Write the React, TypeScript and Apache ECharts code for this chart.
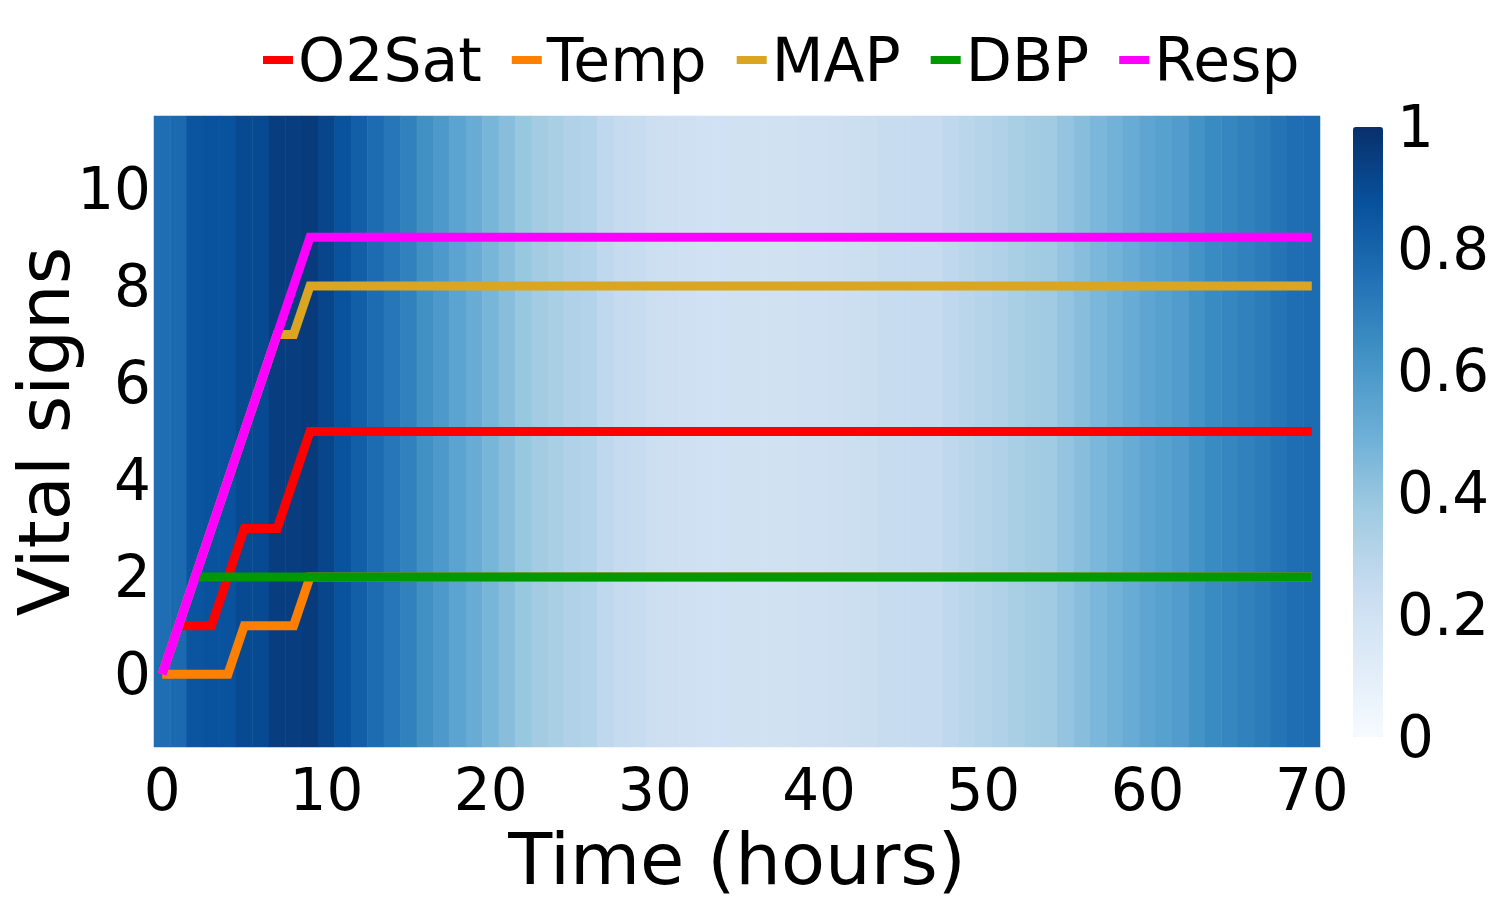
import React, { useEffect, useRef } from "react";
import * as echarts from "echarts";

const hours: string[] = [
  "0","1","2","3","4","5","6","7","8","9","10","11","12","13","14","15","16","17","18","19","20",
  "21","22","23","24","25","26","27","28","29","30","31","32","33","34","35","36","37","38","39","40",
  "41","42","43","44","45","46","47","48","49","50","51","52","53","54","55","56","57","58","59","60",
  "61","62","63","64","65","66","67","68","69","70",
];

const background: number[] = [
  0.76, 0.78, 0.86, 0.87, 0.87, 0.9, 0.9, 0.95, 0.95, 0.96,
  0.92, 0.87, 0.82, 0.77, 0.73, 0.69, 0.63, 0.59, 0.55, 0.51,
  0.47, 0.43, 0.39, 0.36, 0.34, 0.32, 0.31, 0.27, 0.25, 0.24,
  0.22, 0.215, 0.21, 0.205, 0.205, 0.2, 0.2, 0.2, 0.2, 0.21,
  0.21, 0.215, 0.22, 0.23, 0.24, 0.245, 0.25, 0.25, 0.27, 0.29,
  0.3, 0.32, 0.34, 0.36, 0.37, 0.4, 0.43, 0.46, 0.48, 0.51,
  0.54, 0.56, 0.58, 0.62, 0.65, 0.67, 0.69, 0.71, 0.74, 0.76,
  0.77,
];

const o2sat: number[] = [
  0, 1, 1, 1, 2, 3, 3, 3, 4, 5,
  5, 5, 5, 5, 5, 5, 5, 5, 5, 5, 5, 5, 5, 5, 5, 5, 5, 5, 5, 5,
  5, 5, 5, 5, 5, 5, 5, 5, 5, 5, 5, 5, 5, 5, 5, 5, 5, 5, 5, 5,
  5, 5, 5, 5, 5, 5, 5, 5, 5, 5, 5, 5, 5, 5, 5, 5, 5, 5, 5, 5, 5,
];

const temp: number[] = [
  0, 0, 0, 0, 0, 1, 1, 1, 1, 2,
  2, 2, 2, 2, 2, 2, 2, 2, 2, 2, 2, 2, 2, 2, 2, 2, 2, 2, 2, 2,
  2, 2, 2, 2, 2, 2, 2, 2, 2, 2, 2, 2, 2, 2, 2, 2, 2, 2, 2, 2,
  2, 2, 2, 2, 2, 2, 2, 2, 2, 2, 2, 2, 2, 2, 2, 2, 2, 2, 2, 2, 2,
];

const map: number[] = [
  0, 1, 2, 3, 4, 5, 6, 7, 7, 8,
  8, 8, 8, 8, 8, 8, 8, 8, 8, 8, 8, 8, 8, 8, 8, 8, 8, 8, 8, 8,
  8, 8, 8, 8, 8, 8, 8, 8, 8, 8, 8, 8, 8, 8, 8, 8, 8, 8, 8, 8,
  8, 8, 8, 8, 8, 8, 8, 8, 8, 8, 8, 8, 8, 8, 8, 8, 8, 8, 8, 8, 8,
];

const dbp: (number | null)[] = [
  null, null, 2, 2, 2, 2, 2, 2, 2, 2,
  2, 2, 2, 2, 2, 2, 2, 2, 2, 2, 2, 2, 2, 2, 2, 2, 2, 2, 2, 2,
  2, 2, 2, 2, 2, 2, 2, 2, 2, 2, 2, 2, 2, 2, 2, 2, 2, 2, 2, 2,
  2, 2, 2, 2, 2, 2, 2, 2, 2, 2, 2, 2, 2, 2, 2, 2, 2, 2, 2, 2, 2,
];

const resp: number[] = [
  0, 1, 2, 3, 4, 5, 6, 7, 8, 9,
  9, 9, 9, 9, 9, 9, 9, 9, 9, 9, 9, 9, 9, 9, 9, 9, 9, 9, 9, 9,
  9, 9, 9, 9, 9, 9, 9, 9, 9, 9, 9, 9, 9, 9, 9, 9, 9, 9, 9, 9,
  9, 9, 9, 9, 9, 9, 9, 9, 9, 9, 9, 9, 9, 9, 9, 9, 9, 9, 9, 9, 9,
];

const seriesNames = ["O2Sat", "Temp", "MAP", "DBP", "Resp"];
const seriesColors = ["#ff0000", "#ff7f00", "#daa520", "#009900", "#ff00ff"];
const seriesValues = [o2sat, temp, map, dbp, resp];

const yTicks = [0, 2, 4, 6, 8, 10];
const blues = [
  "#f7fbff", "#deebf7", "#c6dbef", "#9ecae1", "#6baed6",
  "#4292c6", "#2171b5", "#08519c", "#08306b",
];

const FONT = "DejaVu Sans";

export default function App() {
  const ref = useRef<HTMLDivElement>(null);
  useEffect(() => {
    document.body.style.margin = "0";
    if (!ref.current) return;
    const chart = echarts.init(ref.current, undefined, { renderer: "svg" });
    const heatData = background.map((v, i) => [i, 0, v]);
    chart.setOption({
      animation: false,
      backgroundColor: "#ffffff",
      textStyle: { fontFamily: FONT, color: "#000" },
      legend: {
        data: seriesNames,
        left: 263,
        top: 30,
        icon: "rect",
        itemWidth: 30,
        itemHeight: 8,
        itemGap: 30,
        padding: 0,
        textStyle: { fontSize: 60, fontFamily: FONT, color: "#000" },
      },
      grid: [
        { left: 154, top: 116, width: 1166, height: 631, containLabel: false, outerBoundsMode: "none" },
        { left: 1353, top: 127, width: 30, height: 610, containLabel: false, outerBoundsMode: "none" },
      ],
      xAxis: [
        {
          type: "category",
          gridIndex: 0,
          data: hours,
          boundaryGap: true,
          axisLine: { show: false },
          axisTick: { show: false },
          splitLine: { show: false },
          axisLabel: {
            interval: 9,
            fontSize: 58,
            lineHeight: 50,
            fontFamily: FONT,
            color: "#000",
            margin: 18,
          },
          name: "Time (hours)",
          nameLocation: "middle",
          nameGap: 82,
          nameMoveOverlap: false,
          nameTextStyle: { fontSize: 72, lineHeight: 60, fontFamily: FONT, color: "#000" },
        },
        { type: "value", gridIndex: 1, show: false, min: 0, max: 1 },
      ],
      yAxis: [
        {
          type: "value",
          gridIndex: 0,
          min: -1.5,
          max: 11.5,
          axisLine: { show: false },
          axisTick: { show: false },
          splitLine: { show: false },
          axisLabel: {
            customValues: yTicks,
            fontSize: 58,
            fontFamily: FONT,
            color: "#000",
            margin: 3,
          },
          name: "Vital signs",
          nameLocation: "middle",
          nameGap: 77,
          nameMoveOverlap: false,
          nameTextStyle: { fontSize: 72, lineHeight: 66, fontFamily: FONT, color: "#000" },
        },
        {
          type: "category",
          gridIndex: 0,
          data: ["v"],
          show: false,
        },
        {
          type: "value",
          gridIndex: 1,
          position: "right",
          min: 0,
          max: 1,
          interval: 0.2,
          axisLine: { show: false },
          axisTick: { show: false },
          splitLine: { show: false },
          axisLabel: { fontSize: 58, fontFamily: FONT, color: "#000", margin: 14 },
        },
      ],
      visualMap: {
        type: "continuous",
        min: 0,
        max: 1,
        seriesIndex: 0,
        dimension: 2,
        orient: "vertical",
        left: 1353,
        top: 127,
        itemWidth: 30,
        itemHeight: 610,
        padding: 0,
        calculable: false,
        hoverLink: false,
        text: null,
        inRange: { color: blues },
      },
      series: [
        {
          type: "heatmap",
          xAxisIndex: 0,
          yAxisIndex: 1,
          data: heatData,
          silent: true,
          z: 1,
        },
        ...seriesNames.map((name, k) => ({
          type: "line",
          name,
          xAxisIndex: 0,
          yAxisIndex: 0,
          data: seriesValues[k],
          showSymbol: false,
          symbol: "none",
          connectNulls: false,
          lineStyle: { width: 9, color: seriesColors[k], cap: "butt", join: "miter" },
          itemStyle: { color: seriesColors[k] },
          z: 2 + k,
        })),
      ],
    });
    return () => chart.dispose();
  }, []);
  return <div ref={ref} style={{ width: 1500, height: 900, position: "absolute", left: 0, top: 0 }} />;
}
